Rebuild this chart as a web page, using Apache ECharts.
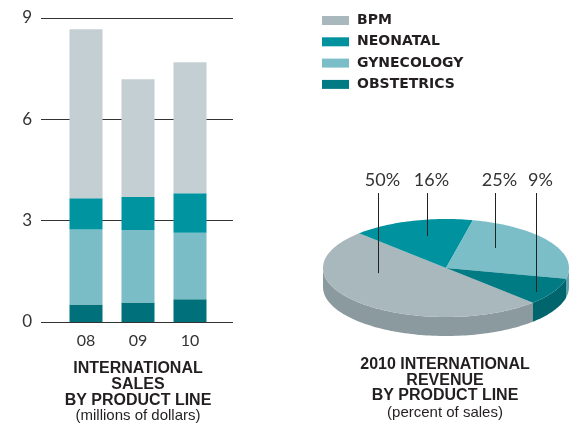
<!DOCTYPE html>
<html><head><meta charset="utf-8">
<script src="https://cdn.jsdelivr.net/npm/echarts@6/dist/echarts.min.js"></script>
<style>html,body{margin:0;padding:0;background:#fff}#c{width:572px;height:423px}</style>
</head><body><div id="c"></div>
<script>
// ---- data ----
const years = ['08', '09', '10'];
const productLines = ['BPM', 'NEONATAL', 'GYNECOLOGY', 'OBSTETRICS'];
const bpmSales = [5.01, 3.49, 3.88];
const neonatalSales = [0.92, 0.98, 1.17];
const gynecologySales = [2.22, 2.14, 1.97];
const obstetricsSales = [0.52, 0.58, 0.67];
const yTicks = [0, 3, 6, 9];
const revenueShare2010 = [50, 16, 25, 9]; // BPM, NEONATAL, GYNECOLOGY, OBSTETRICS
const barTitle = ['INTERNATIONAL', 'SALES', 'BY PRODUCT LINE'];
const barSubtitle = '(millions of dollars)';
const pieTitle = ['2010 INTERNATIONAL', 'REVENUE', 'BY PRODUCT LINE'];
const pieSubtitle = '(percent of sales)';

// ---- styles / layout ----
const barColors = ['#c3cfd3', '#0093a0', '#7bbdc6', '#00707a'];
const pieTop = ['#a9b8bc', '#00929e', '#7bbec7', '#007b84'];
const pieSide = ['#8b9a9e', '#007580', '#62a5ae', '#00656c'];
const PIE = { cx: 446, cy: 268, rx: 123, ry: 49, depth: 19, startAngle: -45, labelY: 180, lineTop: 193 };
const labelAnchors = [[0.69, 0.56], [0.55, 0.67], [0.35, 0.57], [0.65, 0.88]]; // fraction along slice, radius fraction
const TXT = '#231f20';

const total = revenueShare2010.reduce((a, b) => a + b, 0);
const sliceAngles = [];
let acc = 0;
revenueShare2010.forEach(v => {
  const s = PIE.startAngle - 360 * acc / total;
  acc += v;
  const e = PIE.startAngle - 360 * acc / total;
  sliceAngles.push([s, e]);
});
function pt(deg, rf, yOff) {
  const r = deg * Math.PI / 180;
  return [PIE.cx + PIE.rx * rf * Math.cos(r), PIE.cy - PIE.ry * rf * Math.sin(r) + yOff];
}
function arc(a, b, yOff) {
  const n = Math.max(2, Math.ceil(Math.abs(b - a) / 1.5));
  const out = [];
  for (let k = 0; k <= n; k++) out.push(pt(a + (b - a) * k / n, 1, yOff));
  return out;
}

const sales = [obstetricsSales, gynecologySales, neonatalSales, bpmSales];
const salesNames = ['OBSTETRICS', 'GYNECOLOGY', 'NEONATAL', 'BPM'];

function textEl(str, x, y, size, weight, family) {
  return {
    type: 'text', x: x, y: y, silent: true,
    style: {
      text: str, fill: TXT, fontSize: size, fontWeight: weight, fontFamily: family,
      align: 'center', verticalAlign: 'middle', textAlign: 'center', textVerticalAlign: 'middle'
    }
  };
}
const graphics = [];
barTitle.forEach((t, i) => graphics.push(textEl(t, 138, 369 + i * 16, 16, 'bold', 'Liberation Sans')));
graphics.push(textEl(barSubtitle, 138, 416, 15, 'normal', 'Liberation Sans'));
pieTitle.forEach((t, i) => graphics.push(textEl(t, 445, 365 + i * 15.5, 16, 'bold', 'Liberation Sans')));
graphics.push(textEl(pieSubtitle, 445, 413, 15, 'normal', 'Liberation Sans'));

const chart = echarts.init(document.getElementById('c'), null, { renderer: 'canvas' });
chart.setOption({
  animation: false,
  backgroundColor: '#fff',
  legend: {
    orient: 'vertical', left: 322, top: 13, padding: 0,
    itemWidth: 27, itemHeight: 9, itemGap: 6.3, icon: 'rect', selectedMode: false,
    data: productLines.map((n, i) => ({ name: n, itemStyle: { color: pieTop[i] } })),
    textStyle: { fontFamily: 'DejaVu Sans', fontWeight: 'bold', fontSize: 14, color: TXT, lineHeight: 15, padding: [0, 0, 0, 3] }
  },
  grid: [
    { left: 41, right: 339, top: 18, bottom: 101 },
    { left: 60, width: 156, top: 18, bottom: 101 }
  ],
  xAxis: [
    { type: 'category', gridIndex: 0, show: false, data: years },
    {
      type: 'category', gridIndex: 1, data: years,
      axisLine: { show: false }, axisTick: { show: false },
      axisLabel: { fontSize: 16, fontFamily: 'Lato', color: '#333', margin: 11 }
    }
  ],
  yAxis: [
    {
      type: 'value', gridIndex: 0, min: yTicks[0], max: yTicks[yTicks.length - 1], interval: yTicks[1] - yTicks[0],
      axisLine: { show: false }, axisTick: { show: false },
      axisLabel: { fontSize: 17, fontFamily: 'Lato', color: '#333', margin: 9 },
      splitLine: { lineStyle: { color: '#333', width: 1 } }
    },
    {
      type: 'value', gridIndex: 1, min: yTicks[0], max: yTicks[yTicks.length - 1], interval: yTicks[1] - yTicks[0],
      show: false, splitLine: { show: false }
    }
  ],
  graphic: graphics,
  series: sales.map((arr, k) => ({
    name: salesNames[k], type: 'bar', stack: 'sales', xAxisIndex: 1, yAxisIndex: 1,
    barWidth: 33, data: arr,
    itemStyle: { color: barColors[productLines.indexOf(salesNames[k])] }
  })).concat([
    {
      type: 'custom', name: 'revenue', coordinateSystem: 'none', silent: true, z: 2,
      data: revenueShare2010,
      renderItem: function (params, api) {
        const i = params.dataIndex;
        const s = sliceAngles[i][0], e = sliceAngles[i][1];
        const children = [];
        for (let k = -2; k <= 1; k++) {
          const a = Math.max(e, -180 + 360 * k), b = Math.min(s, 360 * k);
          if (a < b) {
            children.push({ type: 'polygon', shape: { points: arc(b, a, 0).concat(arc(a, b, PIE.depth)) }, style: { fill: pieSide[i] } });
          }
        }
        children.push({ type: 'polygon', shape: { points: [[PIE.cx, PIE.cy]].concat(arc(s, e, 0)) }, style: { fill: pieTop[i] } });
        return { type: 'group', children: children };
      }
    },
    {
      type: 'custom', name: 'revenue labels', coordinateSystem: 'none', silent: true, z: 3,
      data: revenueShare2010,
      renderItem: function (params, api) {
        const i = params.dataIndex;
        const s = sliceAngles[i][0], e = sliceAngles[i][1];
        const f = labelAnchors[i][0], rf = labelAnchors[i][1];
        const p = pt(s + (e - s) * f, rf, 0);
        const lx = Math.round(p[0]) + 0.5;
        return {
          type: 'group', children: [
            { type: 'line', shape: { x1: lx, y1: PIE.lineTop, x2: lx, y2: p[1] }, style: { stroke: '#222', lineWidth: 1 } },
            {
              type: 'text', x: lx + 4, y: PIE.labelY,
              style: {
                text: api.value(0) + '%', fill: '#333', fontSize: 18, fontFamily: 'Lato',
                align: 'center', verticalAlign: 'middle', textAlign: 'center', textVerticalAlign: 'middle'
              }
            }
          ]
        };
      }
    }
  ])
});
</script>
</body></html>
